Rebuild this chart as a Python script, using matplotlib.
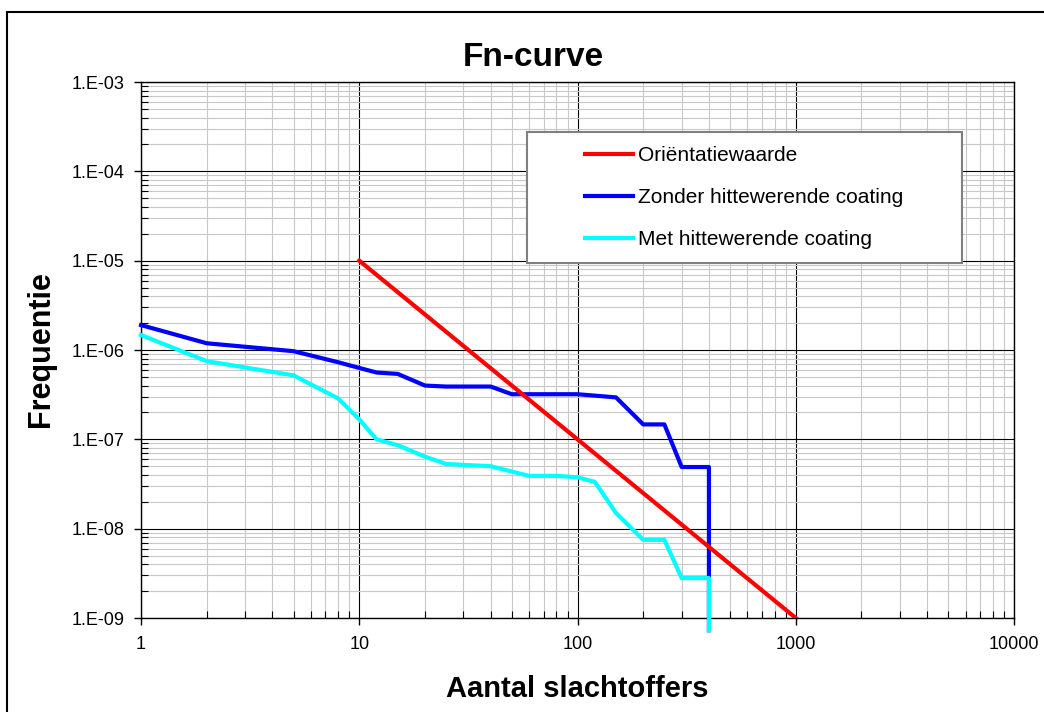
import matplotlib
matplotlib.use('Agg')
import matplotlib.pyplot as plt
from matplotlib.ticker import LogLocator, NullFormatter
from matplotlib.patches import Rectangle

plt.rcParams['font.family'] = ['Liberation Sans', 'DejaVu Sans']

# data
n_orientatie = [10, 1000]
f_orientatie = [1e-5, 1e-9]

n_zonder = [1, 2, 5, 8, 10, 12, 15, 20, 25, 40, 50, 100, 150, 200, 250, 300, 400, 400]
f_zonder = [1.9e-6, 1.19e-6, 9.7e-7, 7.3e-7, 6.3e-7, 5.6e-7, 5.4e-7, 4.0e-7, 3.9e-7,
            3.9e-7, 3.2e-7, 3.2e-7, 2.95e-7, 1.47e-7, 1.47e-7, 4.9e-8, 4.9e-8, 7.3e-10]

n_met = [1, 2, 5, 8, 10, 12, 15, 20, 25, 40, 60, 80, 100, 120, 150, 200, 250, 300, 400, 400]
f_met = [1.47e-6, 7.5e-7, 5.2e-7, 2.87e-7, 1.67e-7, 1.0e-7, 8.6e-8, 6.4e-8, 5.3e-8, 5.0e-8,
         3.9e-8, 3.9e-8, 3.76e-8, 3.34e-8, 1.5e-8, 7.5e-9, 7.5e-9, 2.8e-9, 2.8e-9, 7.3e-10]

series_labels = ['Oriëntatiewaarde', 'Zonder hittewerende coating', 'Met hittewerende coating']

x_ticks = [1, 10, 100, 1000, 10000]
x_tick_labels = ['1', '10', '100', '1000', '10000']
y_ticks = [1e-9, 1e-8, 1e-7, 1e-6, 1e-5, 1e-4, 1e-3]
y_tick_labels = ['1.E-09', '1.E-08', '1.E-07', '1.E-06', '1.E-05', '1.E-04', '1.E-03']

fig = plt.figure(figsize=(10.44, 7.12), dpi=100)
ax = fig.add_axes([0.1351, 0.1320, 0.8362, 0.7528])

lw = 3
l_zonder, = ax.plot(n_zonder, f_zonder, color='#0000ff', lw=lw, clip_on=False,
                    solid_joinstyle='round', zorder=3)
l_met, = ax.plot(n_met, f_met, color='#00ffff', lw=lw, clip_on=False,
                 solid_joinstyle='round', zorder=3)
l_ori, = ax.plot(n_orientatie, f_orientatie, color='#ff0000', lw=lw,
                 solid_joinstyle='round', zorder=3)

ax.set_xscale('log')
ax.set_yscale('log')
ax.set_xlim(1, 10000)
ax.set_ylim(1e-9, 1e-3)
ax.set_xticks(x_ticks, x_tick_labels)
ax.set_yticks(y_ticks, y_tick_labels)
ax.xaxis.set_minor_locator(LogLocator(base=10, subs=range(2, 10)))
ax.yaxis.set_minor_locator(LogLocator(base=10, subs=range(2, 10)))
ax.xaxis.set_minor_formatter(NullFormatter())
ax.yaxis.set_minor_formatter(NullFormatter())

ax.tick_params(which='major', direction='out', length=5, width=1, labelsize=13)
ax.tick_params(which='minor', direction='in', length=5, width=0.8)
ax.tick_params(axis='x', which='major', pad=8)
ax.tick_params(axis='y', which='major', pad=7)

ax.grid(True, which='major', color='black', lw=0.8)
ax.grid(True, which='minor', color='#c8c8c8', lw=0.8)
ax.set_axisbelow(True)
for s in ax.spines.values():
    s.set_color('black')
    s.set_linewidth(1)

# legend box
box = (0.4422, 0.6623, 0.4982, 0.2444)
ax.add_patch(Rectangle(box[:2], box[2], box[3], transform=ax.transAxes,
                       facecolor='white', edgecolor='#808080', lw=1.5, zorder=4))
ax.legend([l_ori, l_zonder, l_met], series_labels, loc='center', bbox_to_anchor=box,
          frameon=False, fontsize=15, handlelength=2.3, handletextpad=0.25,
          labelspacing=1.1)

fig.text(533 / 1044, 1 - 58 / 712, 'Fn-curve', fontsize=24, fontweight='bold',
         ha='center', va='center')
fig.text(577.5 / 1044, 1 - 689 / 712, 'Aantal slachtoffers', fontsize=21, fontweight='bold',
         ha='center', va='center')
fig.text(41 / 1044, 1 - 349 / 712, 'Frequentie', fontsize=22, fontweight='bold',
         ha='center', va='center', rotation=90)

# outer chart frame (only left/top edges inside the picture)
fig.add_artist(Rectangle((7 / 1044, -0.5), 2, 1.4838, transform=fig.transFigure,
                         fill=False, edgecolor='black', lw=1.5))

fig.savefig('out.png', dpi=100)
